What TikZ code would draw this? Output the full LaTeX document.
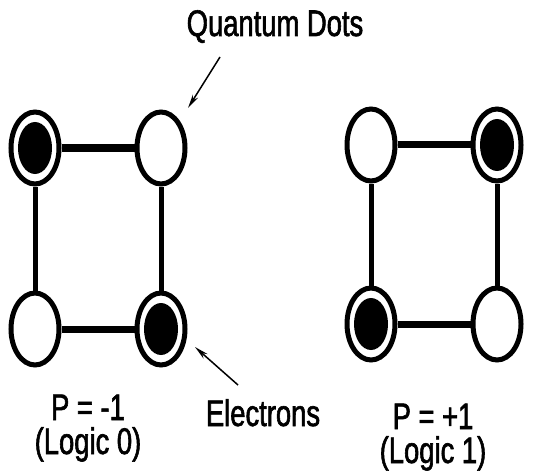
\documentclass[tikz,border=0pt]{standalone}
\usepackage{fontspec}
\setmainfont{Liberation Sans}[FakeStretch=0.74, FakeBold=1.6]
\usetikzlibrary{shapes.geometric,arrows.meta}
\tikzset{
  qdot/.style={ellipse, draw, line width=5pt, minimum width=48pt, minimum height=72pt, inner sep=0pt, fill=white},
  electron/.style={ellipse, fill=black, minimum width=34pt, minimum height=52pt, inner sep=0pt},
  vlink/.style={line width=5pt},
  hlink/.style={line width=7pt},
  lbl/.style={font=\fontsize{37}{38}\selectfont, anchor=base, inner sep=0pt},
  pointer/.style={line width=1.5pt, -{Stealth[length=14pt,width=6pt]}}
}
\begin{document}
\begin{tikzpicture}[x=1pt,y=-1pt]
\useasboundingbox[fill=white] (0,0) rectangle (553,473);
% left cell (P = -1)
\node[qdot] (ltl) at (35,148) {};
\node[qdot] (ltr) at (161,148) {};
\node[qdot] (lbl) at (35,329) {};
\node[qdot] (lbr) at (161,329) {};
\node[electron] (eltl) at (35,148) {};
\node[electron] (elbr) at (161,329) {};
% right cell (P = +1)
\node[qdot] (rtl) at (371,145) {};
\node[qdot] (rtr) at (497,145) {};
\node[qdot] (rbl) at (371,324) {};
\node[qdot] (rbr) at (497,324) {};
\node[electron] (ertr) at (497,145) {};
\node[electron] (erbl) at (371,324) {};
% links
\draw[hlink] (ltl) -- (ltr);
\draw[hlink] (lbl) -- (lbr);
\draw[vlink] (ltl) -- (lbl);
\draw[vlink] (ltr) -- (lbr);
\draw[hlink] (rtl) -- (rtr);
\draw[hlink] (rbl) -- (rbr);
\draw[vlink] (rtl) -- (rbl);
\draw[vlink] (rtr) -- (rbr);
% labels
\node[lbl] (qd) at (275,36) {Quantum Dots};
\node[lbl] (el) at (263,426) {Electrons};
\node[lbl] (p0) at (88,420) {P = -1};
\node[lbl] (l0) at (88,454) {(Logic 0)};
\node[lbl] (p1) at (433,429) {P = +1};
\node[lbl] (l1) at (433,463) {(Logic 1)};
% pointers
\coordinate (qa) at (220,57);
\coordinate (qb) at (188,108);
\coordinate (ea) at (238,385);
\coordinate (eb) at (195,347);
\draw[pointer] (qa) -- (qb);
\draw[pointer] (ea) -- (eb);
\end{tikzpicture}
\end{document}
